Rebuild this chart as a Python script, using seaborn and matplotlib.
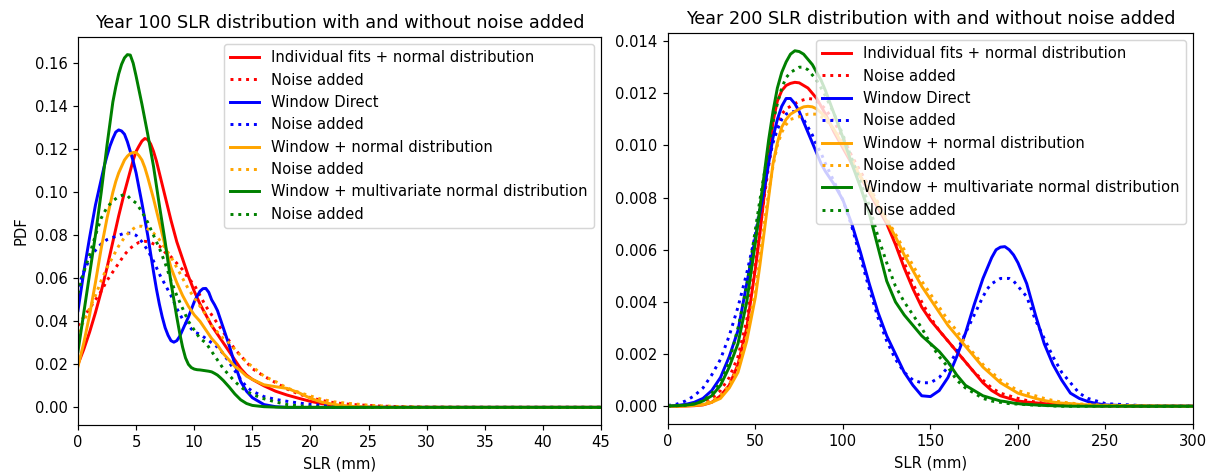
import pandas as pd
import seaborn as sns
import matplotlib
matplotlib.use("Agg")
import matplotlib.pyplot as plt
from matplotlib.ticker import MultipleLocator

# ---- year 100 (left panel) ----
slr_100 = [0, 0.5, 1, 1.5,
           2, 2.25, 2.5, 2.75, 3, 3.25, 3.5, 3.75, 4, 4.25, 4.5, 4.75, 5, 5.25, 5.5, 5.75,
           6, 6.25, 6.5, 6.75, 7, 7.25, 7.5, 7.75, 8, 8.25, 8.5, 8.75, 9, 9.25, 9.5, 9.75,
           10, 10.25, 10.5, 10.75, 11, 11.25, 11.5, 11.75, 12, 12.25, 12.5, 12.75, 13,
           13.5, 14, 14.5, 15,
           16, 17, 18, 19, 20, 21, 22, 23, 24, 25, 26,
           28, 30, 35, 40, 45]

ind_100 = [0.020, 0.027, 0.035, 0.044,
           0.054, 0.0595, 0.065, 0.071, 0.077, 0.083, 0.089, 0.0945, 0.100, 0.105, 0.110, 0.115, 0.119, 0.1215, 0.1238, 0.125,
           0.1245, 0.1225, 0.119, 0.1145, 0.109, 0.1035, 0.098, 0.0925, 0.087, 0.082, 0.077, 0.073, 0.069, 0.065, 0.061, 0.0575,
           0.054, 0.051, 0.048, 0.0455, 0.043, 0.0405, 0.038, 0.036, 0.034, 0.032, 0.030, 0.028, 0.026,
           0.022, 0.018, 0.015, 0.013,
           0.010, 0.0075, 0.0057, 0.0042, 0.0028, 0.0017, 0.001, 0.0005, 0.0002, 0.0001, 0.0001,
           0, 0, 0, 0, 0]
ind_100_noise = [0.038, 0.042, 0.046, 0.050,
                 0.054, 0.0565, 0.059, 0.061, 0.063, 0.065, 0.067, 0.069, 0.071, 0.0725, 0.074, 0.075, 0.076, 0.0767, 0.077, 0.0772,
                 0.077, 0.0767, 0.076, 0.0755, 0.075, 0.0737, 0.072, 0.071, 0.070, 0.0685, 0.067, 0.0655, 0.064, 0.062, 0.060, 0.0585,
                 0.057, 0.0545, 0.052, 0.0495, 0.047, 0.045, 0.043, 0.041, 0.039, 0.037, 0.035, 0.033, 0.031,
                 0.027, 0.024, 0.021, 0.018,
                 0.0145, 0.0115, 0.0085, 0.0062, 0.0045, 0.0032, 0.0022, 0.0016, 0.0012, 0.0009, 0.0006,
                 0.0003, 0.0001, 0, 0, 0]
dir_100 = [0.045, 0.063, 0.079, 0.094,
           0.106, 0.112, 0.117, 0.1215, 0.125, 0.128, 0.129, 0.1285, 0.127, 0.1235, 0.119, 0.1145, 0.109, 0.102, 0.095, 0.0875,
           0.080, 0.0715, 0.063, 0.055, 0.048, 0.042, 0.037, 0.0335, 0.031, 0.0303, 0.031, 0.033, 0.036, 0.039, 0.042, 0.0455,
           0.049, 0.0517, 0.054, 0.0552, 0.0553, 0.0535, 0.050, 0.0477, 0.045, 0.041, 0.037, 0.033, 0.029,
           0.020, 0.012, 0.0075, 0.0045,
           0.0013, 0.0003, 0, 0, 0, 0, 0, 0, 0, 0, 0,
           0, 0, 0, 0, 0]
dir_100_noise = [0.056, 0.063, 0.069, 0.073,
                 0.076, 0.077, 0.078, 0.0785, 0.079, 0.0795, 0.080, 0.0805, 0.081, 0.081, 0.081, 0.0805, 0.080, 0.0785, 0.077, 0.075,
                 0.073, 0.0705, 0.068, 0.065, 0.062, 0.0595, 0.057, 0.0545, 0.052, 0.049, 0.046, 0.0435, 0.041, 0.0395, 0.038, 0.0365,
                 0.035, 0.0345, 0.034, 0.033, 0.032, 0.031, 0.030, 0.029, 0.028, 0.0265, 0.025, 0.023, 0.021,
                 0.017, 0.013, 0.0095, 0.0075,
                 0.005, 0.0037, 0.0028, 0.002, 0.0014, 0.0009, 0.0005, 0.0003, 0.0001, 0, 0,
                 0, 0, 0, 0, 0]
win_100 = [0.019, 0.030, 0.043, 0.058,
           0.074, 0.081, 0.088, 0.094, 0.100, 0.105, 0.109, 0.112, 0.115, 0.1168, 0.118, 0.1185, 0.1185, 0.117, 0.115, 0.1115,
           0.107, 0.102, 0.097, 0.0915, 0.086, 0.0805, 0.075, 0.070, 0.065, 0.0615, 0.058, 0.055, 0.052, 0.0495, 0.047, 0.045,
           0.043, 0.0415, 0.040, 0.038, 0.036, 0.034, 0.032, 0.0305, 0.029, 0.027, 0.025, 0.0235, 0.022,
           0.019, 0.017, 0.0145, 0.013,
           0.0105, 0.0096, 0.0088, 0.0068, 0.0042, 0.0024, 0.0014, 0.0007, 0.0003, 0.0001, 0,
           0, 0, 0, 0, 0]
win_100_noise = [0.035, 0.040, 0.046, 0.052,
                 0.059, 0.062, 0.065, 0.0675, 0.070, 0.0725, 0.075, 0.077, 0.079, 0.0805, 0.082, 0.083, 0.084, 0.0842, 0.0842, 0.0838,
                 0.083, 0.082, 0.081, 0.0795, 0.078, 0.076, 0.074, 0.072, 0.070, 0.0675, 0.065, 0.0625, 0.060, 0.0575, 0.055, 0.053,
                 0.051, 0.049, 0.047, 0.045, 0.043, 0.0405, 0.038, 0.0365, 0.035, 0.0335, 0.032, 0.031, 0.030,
                 0.027, 0.024, 0.021, 0.019,
                 0.0145, 0.012, 0.009, 0.007, 0.0053, 0.0037, 0.0026, 0.002, 0.0015, 0.001, 0.0007,
                 0.0003, 0.0001, 0, 0, 0]
mvn_100 = [0.026, 0.044, 0.062, 0.080,
           0.100, 0.111, 0.122, 0.132, 0.142, 0.149, 0.155, 0.1595, 0.1625, 0.164, 0.1638, 0.160, 0.154, 0.1475, 0.141, 0.134,
           0.127, 0.1195, 0.112, 0.103, 0.094, 0.0855, 0.077, 0.0675, 0.058, 0.050, 0.042, 0.0345, 0.028, 0.023, 0.020, 0.0185,
           0.0178, 0.0175, 0.0174, 0.0172, 0.017, 0.0168, 0.0165, 0.0158, 0.015, 0.0138, 0.0125, 0.011, 0.0095,
           0.0062, 0.0035, 0.0018, 0.0009,
           0.0003, 0.0001, 0, 0, 0, 0, 0, 0, 0, 0, 0,
           0, 0, 0, 0, 0]
mvn_100_noise = [0.053, 0.063, 0.071, 0.080,
                 0.088, 0.0905, 0.093, 0.0945, 0.096, 0.097, 0.098, 0.0985, 0.099, 0.0985, 0.097, 0.096, 0.095, 0.093, 0.091, 0.0885,
                 0.086, 0.083, 0.080, 0.077, 0.074, 0.0705, 0.067, 0.063, 0.059, 0.0555, 0.052, 0.049, 0.046, 0.043, 0.040, 0.038,
                 0.036, 0.034, 0.032, 0.031, 0.030, 0.028, 0.026, 0.024, 0.022, 0.020, 0.018, 0.0165, 0.015,
                 0.012, 0.0095, 0.0075, 0.006,
                 0.004, 0.0025, 0.0013, 0.0007, 0.0003, 0.0001, 0, 0, 0, 0, 0,
                 0, 0, 0, 0, 0]

# ---- year 200 (right panel) ----
slr_200 = [0, 5, 10, 15, 20, 25, 30, 35, 40, 45, 50,
           52.5, 55, 57.5, 60, 62.5, 65, 67.5, 70, 72.5, 75, 77.5, 80, 82.5, 85, 87.5, 90,
           95, 100, 105, 110, 115, 120, 125, 130, 135, 140, 145, 150, 155, 160, 165, 170, 175,
           180, 182.5, 185, 187.5, 190, 192.5, 195, 197.5, 200, 202.5, 205,
           210, 215, 220, 225, 230, 235, 240, 245, 250,
           275, 300]

ind_200 = [0, 0, 0.00001, 0.00002, 0.00005, 0.00015, 0.0004, 0.0008, 0.0016, 0.0030, 0.0053,
           0.0066, 0.0081, 0.0096, 0.0109, 0.0117, 0.0121, 0.0123, 0.01238, 0.01242, 0.0124, 0.0123, 0.0122, 0.0120, 0.0118, 0.0115, 0.0112,
           0.0105, 0.0099, 0.0093, 0.0088, 0.0082, 0.0076, 0.0070, 0.0062, 0.0053, 0.0045, 0.0038, 0.0033, 0.0029, 0.0025, 0.0021, 0.0017, 0.0013,
           0.0009, 0.00075, 0.0006, 0.0005, 0.0004, 0.00035, 0.0003, 0.00025, 0.0002, 0.00018, 0.00016,
           0.00013, 0.0001, 0.00008, 0.00006, 0.00004, 0.00003, 0.00002, 0.00001, 0.00001,
           0, 0]
ind_200_noise = [0.00001, 0.00002, 0.00003, 0.00006, 0.00012, 0.0003, 0.0006, 0.0011, 0.0019, 0.0033, 0.0055,
                 0.0067, 0.0080, 0.0092, 0.0102, 0.0108, 0.0112, 0.0114, 0.0115, 0.0116, 0.0117, 0.01175, 0.0118, 0.01178, 0.0117, 0.01155, 0.0114,
                 0.0109, 0.0103, 0.0096, 0.0090, 0.0084, 0.0078, 0.0072, 0.0064, 0.0055, 0.0047, 0.0040, 0.0034, 0.0029, 0.0025, 0.0021, 0.0017, 0.0013,
                 0.0010, 0.00085, 0.0007, 0.0006, 0.0005, 0.00045, 0.0004, 0.00035, 0.0003, 0.00026, 0.00022,
                 0.00016, 0.00012, 0.0001, 0.00008, 0.00006, 0.00004, 0.00003, 0.00002, 0.00001,
                 0, 0]
dir_200 = [0, 0.00003, 0.00007, 0.00015, 0.0003, 0.0006, 0.0011, 0.0019, 0.0029, 0.0047, 0.0065,
           0.0074, 0.0083, 0.0093, 0.0103, 0.0110, 0.0115, 0.0118, 0.0118, 0.0116, 0.0113, 0.0109, 0.0105, 0.0101, 0.0097, 0.0093, 0.0090,
           0.0085, 0.0079, 0.0070, 0.0059, 0.0047, 0.0036, 0.0027, 0.0020, 0.0013, 0.0008, 0.0004, 0.00037, 0.0006, 0.0011, 0.0019, 0.0028, 0.0039,
           0.0049, 0.0053, 0.0057, 0.0060, 0.0061, 0.00612, 0.0060, 0.0058, 0.0055, 0.0051, 0.0047,
           0.0035, 0.0024, 0.0016, 0.0010, 0.0005, 0.0003, 0.00018, 0.0001, 0.00005,
           0, 0]
dir_200_noise = [0.00003, 0.00008, 0.0002, 0.0004, 0.0007, 0.0012, 0.0018, 0.0027, 0.0038, 0.0051, 0.0066,
                 0.0076, 0.0086, 0.0094, 0.0101, 0.0106, 0.0110, 0.0112, 0.0113, 0.0113, 0.0112, 0.0110, 0.0107, 0.0104, 0.0100, 0.0097, 0.0093,
                 0.0086, 0.0079, 0.0069, 0.0057, 0.0045, 0.0034, 0.0025, 0.0018, 0.0013, 0.0010, 0.0009, 0.0009, 0.0011, 0.0015, 0.0021, 0.0028, 0.0035,
                 0.0042, 0.0045, 0.0047, 0.0048, 0.0049, 0.0049, 0.0049, 0.0048, 0.0046, 0.0044, 0.0042,
                 0.0033, 0.0026, 0.0019, 0.0013, 0.0009, 0.0005, 0.0003, 0.0002, 0.0001,
                 0.00001, 0]
win_200 = [0, 0, 0.00001, 0.00003, 0.00006, 0.00015, 0.0003, 0.0007, 0.0013, 0.0025, 0.0042,
           0.0054, 0.0067, 0.0080, 0.0093, 0.0101, 0.0107, 0.0110, 0.0112, 0.0113, 0.0114, 0.01148, 0.0115, 0.01148, 0.0114, 0.01125, 0.0111,
           0.0106, 0.0100, 0.0094, 0.0088, 0.0083, 0.0077, 0.0071, 0.0065, 0.0058, 0.0052, 0.0046, 0.0041, 0.0036, 0.0031, 0.0027, 0.0023, 0.0019,
           0.0015, 0.00135, 0.0012, 0.00105, 0.0009, 0.0008, 0.0007, 0.0006, 0.0005, 0.00045, 0.0004,
           0.0003, 0.00022, 0.00016, 0.00012, 0.0001, 0.00007, 0.00005, 0.00004, 0.00003,
           0.00001, 0]
win_200_noise = [0.00001, 0.00001, 0.00002, 0.00005, 0.0001, 0.0002, 0.0004, 0.0008, 0.0015, 0.0027, 0.0045,
                 0.0057, 0.0070, 0.0082, 0.0092, 0.0100, 0.0105, 0.0108, 0.0110, 0.01105, 0.0111, 0.01115, 0.0112, 0.0112, 0.0112, 0.0111, 0.0110,
                 0.0106, 0.0101, 0.0095, 0.0089, 0.0084, 0.0078, 0.0072, 0.0066, 0.0060, 0.0054, 0.0048, 0.0043, 0.0038, 0.0033, 0.0029, 0.0024, 0.0020,
                 0.0016, 0.00145, 0.0013, 0.00115, 0.0010, 0.0009, 0.0008, 0.0007, 0.0006, 0.00055, 0.0005,
                 0.0004, 0.0003, 0.00022, 0.00016, 0.00012, 0.00009, 0.00007, 0.00005, 0.00004,
                 0.00001, 0]
mvn_200 = [0.00001, 0.00002, 0.00004, 0.00008, 0.0002, 0.0004, 0.0008, 0.0015, 0.0024, 0.0040, 0.0063,
           0.0076, 0.0089, 0.0102, 0.0113, 0.0122, 0.0128, 0.0132, 0.0135, 0.01363, 0.0136, 0.0135, 0.0133, 0.0131, 0.0128, 0.0125, 0.0121,
           0.0112, 0.0103, 0.0093, 0.0084, 0.0074, 0.0061, 0.0048, 0.0040, 0.0035, 0.0031, 0.0027, 0.0024, 0.0021, 0.0017, 0.0012, 0.0008, 0.0006,
           0.0004, 0.00035, 0.0003, 0.00025, 0.0002, 0.00018, 0.00015, 0.00012, 0.0001, 0.00008, 0.00007,
           0.00005, 0.00003, 0.00002, 0.00001, 0, 0, 0, 0, 0,
           0, 0]
mvn_200_noise = [0.00001, 0.00002, 0.00004, 0.0001, 0.0002, 0.0005, 0.0009, 0.0017, 0.0030, 0.0046, 0.0068,
                 0.0079, 0.0089, 0.0099, 0.0109, 0.0116, 0.0122, 0.0126, 0.0128, 0.0129, 0.0130, 0.0130, 0.0129, 0.0127, 0.0125, 0.0122, 0.0119,
                 0.0112, 0.0104, 0.0095, 0.0086, 0.0077, 0.0065, 0.0055, 0.0046, 0.0040, 0.0035, 0.0030, 0.0024, 0.0019, 0.0015, 0.0010, 0.0007, 0.0005,
                 0.0003, 0.00025, 0.0002, 0.00017, 0.00015, 0.00012, 0.0001, 0.00009, 0.00008, 0.00007, 0.00006,
                 0.00004, 0.00003, 0.00001, 0, 0, 0, 0, 0, 0,
                 0, 0]

labels = ['Individual fits + normal distribution', 'Window Direct',
          'Window + normal distribution', 'Window + multivariate normal distribution']
colors = ['red', 'blue', 'orange', 'green']

df_100 = pd.DataFrame({'slr': slr_100,
                       'ind': ind_100, 'ind_n': ind_100_noise,
                       'dir': dir_100, 'dir_n': dir_100_noise,
                       'win': win_100, 'win_n': win_100_noise,
                       'mvn': mvn_100, 'mvn_n': mvn_100_noise})
df_200 = pd.DataFrame({'slr': slr_200,
                       'ind': ind_200, 'ind_n': ind_200_noise,
                       'dir': dir_200, 'dir_n': dir_200_noise,
                       'win': win_200, 'win_n': win_200_noise,
                       'mvn': mvn_200, 'mvn_n': mvn_200_noise})

fig = plt.figure(figsize=(1211 / 106, 472 / 106), dpi=106)
ax1 = fig.add_axes([0.0644, 0.0996, 0.4319, 0.822])
ax2 = fig.add_axes([0.5516, 0.1017, 0.4335, 0.8284])

for ax, df, year, xmax in [(ax1, df_100, 100, 45), (ax2, df_200, 200, 300)]:
    for key, lab, col in zip(['ind', 'dir', 'win', 'mvn'], labels, colors):
        sns.lineplot(data=df, x='slr', y=key, ax=ax, color=col, linewidth=2, label=lab)
        sns.lineplot(data=df, x='slr', y=key + '_n', ax=ax, color=col, linewidth=2,
                     linestyle=':', label='Noise added')
    ax.set_xlim(0, xmax)
    ax.set_xlabel('SLR (mm)')
    ax.set_ylabel('')
    ax.set_title(f'Year {year} SLR distribution with and without noise added')
    ax.legend(loc='upper right')

ax1.yaxis.set_major_locator(MultipleLocator(0.02))
ax1.set_ylabel('PDF')

plt.savefig('out.png', dpi=106)
